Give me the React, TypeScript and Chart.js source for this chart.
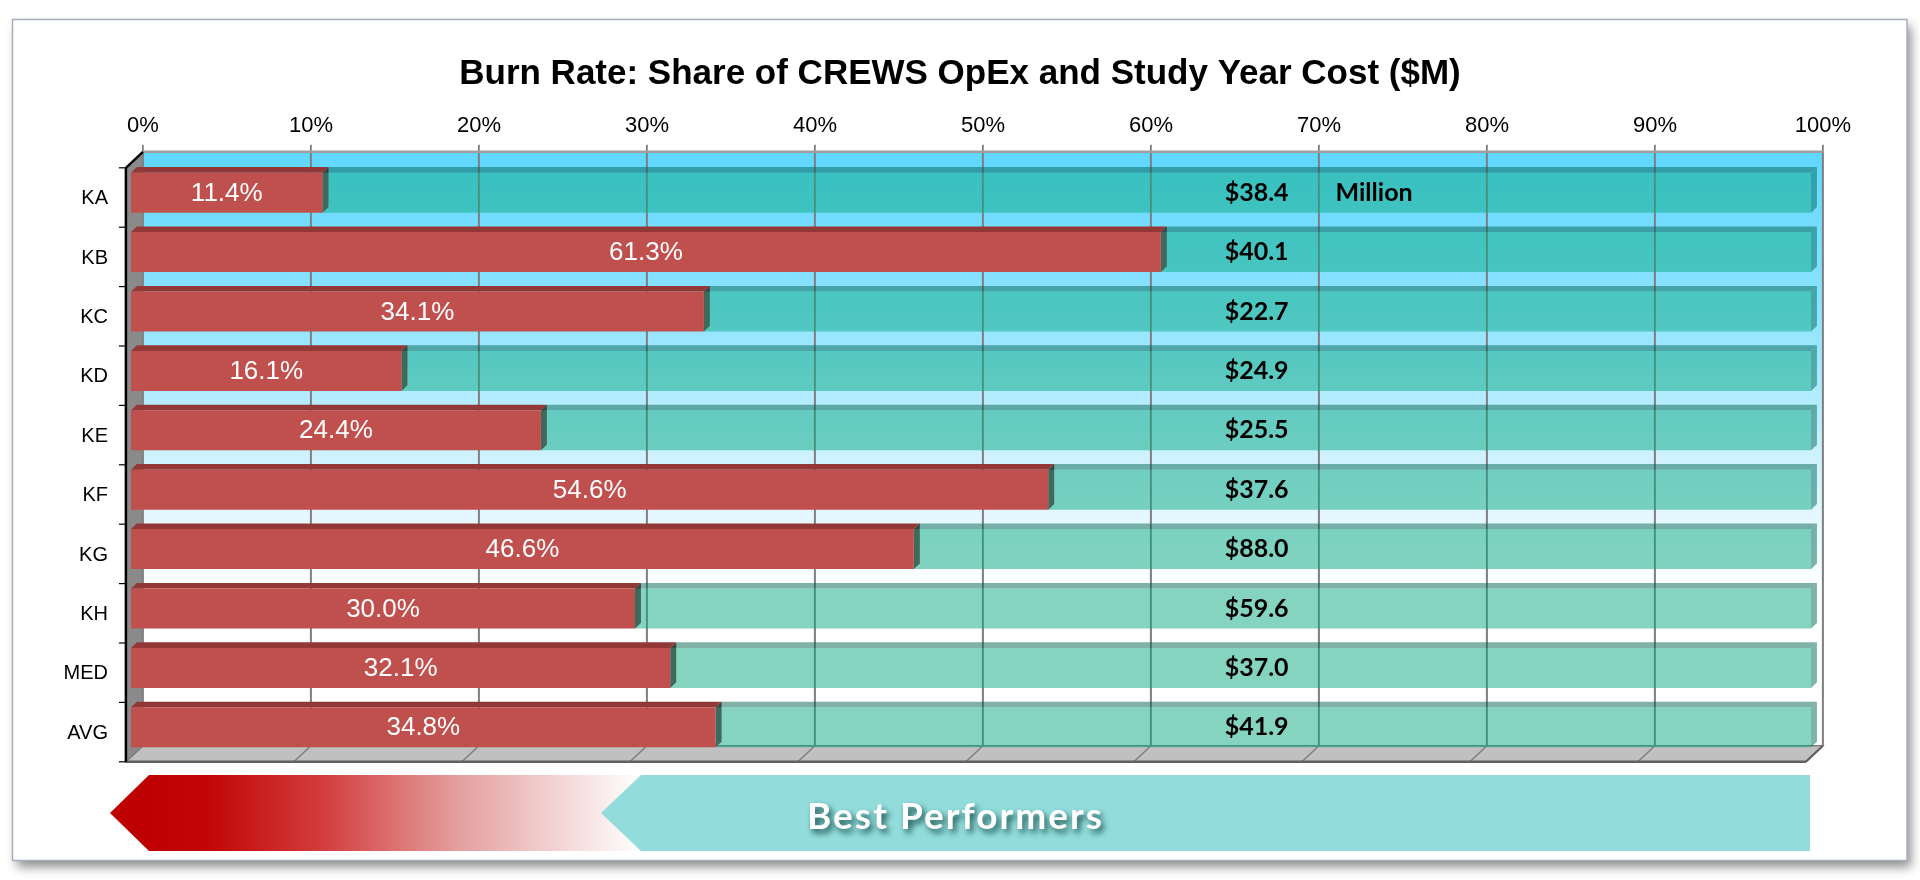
import { useEffect, useRef } from "react";
import { Chart, registerables, Plugin } from "chart.js";

Chart.register(...registerables);

// data
const categories = ["KA", "KB", "KC", "KD", "KE", "KF", "KG", "KH", "MED", "AVG"];
const burnShare = [11.4, 61.3, 34.1, 16.1, 24.4, 54.6, 46.6, 30.0, 32.1, 34.8];
const studyYearCost = [38.4, 40.1, 22.7, 24.9, 25.5, 37.6, 88.0, 59.6, 37.0, 41.9];
const remainder = burnShare.map((v) => +(100 - v).toFixed(1));
const costUnit = "Million";
const titleText = "Burn Rate: Share of CREWS OpEx and Study Year Cost ($M)";
const bannerText = "Best Performers";

const RED = "#C0504D";
const RED_TOP = "#923836";
const RED_SIDE = "#722833";
const TEAL = "rgba(12,170,130,0.5)";
const TEAL_TOP = "rgba(0,100,80,0.5)";
const TEAL_SIDE = "rgba(0,105,85,0.5)";

// 3D depth of the plot box, and where the bars sit inside it
const DEPTH_X = 17;
const DEPTH_Y = -16;
const BAR_FRONT = 0.3;
const BAR_DEPTH = 0.35;

const ARIAL = '"Liberation Sans", Arial, sans-serif';
const CALIBRI = 'Lato, "Open Sans", sans-serif';

const poly = (ctx: CanvasRenderingContext2D, pts: number[][], fill?: any, stroke?: string, lw = 1) => {
  ctx.beginPath();
  pts.forEach(([x, y], i) => (i ? ctx.lineTo(x, y) : ctx.moveTo(x, y)));
  ctx.closePath();
  if (fill) {
    ctx.fillStyle = fill;
    ctx.fill();
  }
  if (stroke) {
    ctx.strokeStyle = stroke;
    ctx.lineWidth = lw;
    ctx.stroke();
  }
};

const line = (ctx: CanvasRenderingContext2D, x1: number, y1: number, x2: number, y2: number, color: string, lw = 1) => {
  ctx.beginPath();
  ctx.moveTo(x1, y1);
  ctx.lineTo(x2, y2);
  ctx.strokeStyle = color;
  ctx.lineWidth = lw;
  ctx.stroke();
};

const box3d: Plugin<"bar"> = {
  id: "box3d",
  beforeDraw(chart) {
    const { ctx, width, height } = chart;
    ctx.save();
    ctx.fillStyle = "#fff";
    ctx.fillRect(0, 0, width, height);
    // framed card with a drop shadow
    ctx.shadowColor = "rgba(0,0,0,0.45)";
    ctx.shadowBlur = 10;
    ctx.shadowOffsetX = 4;
    ctx.shadowOffsetY = 6;
    ctx.fillRect(12.5, 19.5, 1894.5, 841);
    ctx.restore();
    ctx.save();
    ctx.strokeStyle = "#A7AFBE";
    ctx.lineWidth = 1.5;
    ctx.strokeRect(12.5, 19.5, 1894.5, 841);
    // title, centred on the card rather than on the padded layout box
    ctx.font = `bold 35px ${ARIAL}`;
    ctx.fillStyle = "#000";
    ctx.textAlign = "center";
    ctx.textBaseline = "middle";
    ctx.fillText(titleText, width / 2, 74);
    ctx.restore();
  },
  beforeDatasetsDraw(chart) {
    const { ctx, chartArea: a } = chart;
    const xs = chart.scales.x;
    const fx = -BAR_FRONT * DEPTH_X;
    const fy = -BAR_FRONT * DEPTH_Y;
    const bx = (1 - BAR_FRONT) * DEPTH_X;
    const by = (1 - BAR_FRONT) * DEPTH_Y;
    const fl = a.left + fx, fr = a.right + fx, ft = a.top + fy, fb = a.bottom + fy;
    const bl = a.left + bx, br = a.right + bx, bt = a.top + by, bb = a.bottom + by;

    ctx.save();
    // back wall
    const wall = ctx.createLinearGradient(0, bt, 0, bb);
    wall.addColorStop(0, "#60D7FF");
    wall.addColorStop(0.28, "#90E4FF");
    wall.addColorStop(0.52, "#D0F2FF");
    wall.addColorStop(0.74, "#FFFFFF");
    wall.addColorStop(1, "#FFFFFF");
    ctx.fillStyle = wall;
    ctx.fillRect(bl, bt, br - bl, bb - bt);

    // left wall and floor
    poly(ctx, [[fl, ft], [bl, bt], [bl, bb], [fl, fb]], "#8A8A8A");
    poly(ctx, [[fl, fb], [bl, bb], [br, bb], [fr, fb]], "#C0C0C0", "#7F7F7F", 1.5);

    // grid on the back wall and the floor
    xs.ticks.forEach((t) => {
      const px = xs.getPixelForValue(t.value) + bx;
      line(ctx, px, bt, px, bb, "#7F7F7F", 2);
      line(ctx, px, bt - 7, px, bt, "#404040", 1.2);
      line(ctx, px, bb, px - DEPTH_X, bb - DEPTH_Y, "#7F7F7F", 1.5);
    });
    line(ctx, bl, bt, br, bt, "#A0A0A0", 2.5);

    // front edges
    line(ctx, fl, fb, fr, fb, "#606060", 2.5);
    line(ctx, fr, fb, br, bb, "#606060", 2);
    line(ctx, fl, ft, fl, fb, "#000", 2.5);
    line(ctx, fl, ft, bl, bt, "#000", 2.5);
    const n = categories.length;
    for (let i = 0; i <= n; i++) {
      const y = ft + ((fb - ft) * i) / n;
      line(ctx, fl - 7, y, fl, y, "#000", 1.2);
    }

    // top and side faces of the bars
    const dx = BAR_DEPTH * DEPTH_X;
    const dy = BAR_DEPTH * DEPTH_Y;
    const faces = (di: number, top: string, side: string) => {
      chart.getDatasetMeta(di).data.forEach((el) => {
        const { x, y, base, height } = el.getProps(["x", "y", "base", "height"], true) as any;
        const y0 = y - height / 2;
        const y1 = y + height / 2;
        poly(ctx, [[x, y0], [x + dx, y0 + dy], [x + dx, y1 + dy], [x, y1]], side);
        poly(ctx, [[base, y0], [base + dx, y0 + dy], [x + dx, y0 + dy], [x, y0]], top);
      });
    };
    faces(0, RED_TOP, RED_SIDE);
    faces(1, TEAL_TOP, TEAL_SIDE);
    ctx.restore();
  },
  afterDatasetsDraw(chart) {
    const { ctx } = chart;
    const xs = chart.scales.x;
    ctx.save();
    ctx.textBaseline = "middle";
    ctx.textAlign = "center";
    chart.getDatasetMeta(0).data.forEach((el, i) => {
      const { x, y, base } = el.getProps(["x", "y", "base"], true) as any;
      ctx.font = `26px ${ARIAL}`;
      ctx.fillStyle = "#fff";
      ctx.fillText(burnShare[i].toFixed(1) + "%", (x + base) / 2, y + 1);
      ctx.font = `bold 25px ${CALIBRI}`;
      ctx.fillStyle = "#000";
      ctx.fillText("$" + studyYearCost[i].toFixed(1), xs.getPixelForValue(67), y);
      if (i === 0) {
        ctx.textAlign = "left";
        ctx.fillText(costUnit, xs.getPixelForValue(71.7), y);
        ctx.textAlign = "center";
      }
    });
    ctx.restore();
  },
  afterDraw(chart) {
    const { ctx, chartArea: a } = chart;
    const top = 775, bot = 851, mid = (top + bot) / 2;
    const split = 641;
    ctx.save();
    const grad = ctx.createLinearGradient(149, 0, split, 0);
    grad.addColorStop(0, "#BF0000");
    grad.addColorStop(0.12, "#C20606");
    grad.addColorStop(0.35, "#D23C3C");
    grad.addColorStop(0.62, "#E49C9C");
    grad.addColorStop(0.9, "#F8E6E6");
    grad.addColorStop(1, "#FFFFFF");
    poly(ctx, [[a.left - 21, mid], [149, top], [split, top], [split, bot], [149, bot]], grad);
    poly(ctx, [[split - 40, mid], [split, top], [a.right - 1, top], [a.right - 1, bot], [split, bot]], "#92DDDB");

    ctx.font = `bold 37px ${CALIBRI}`;
    (ctx as any).letterSpacing = "2px";
    ctx.textAlign = "left";
    ctx.textBaseline = "alphabetic";
    ctx.shadowColor = "rgba(0,50,50,0.85)";
    ctx.shadowBlur = 6;
    ctx.shadowOffsetX = 3;
    ctx.shadowOffsetY = 4;
    ctx.fillStyle = "#fff";
    ctx.fillText(bannerText, 807, 829);
    ctx.restore();
  },
};

export default function App() {
  const canvasRef = useRef<HTMLCanvasElement>(null);

  useEffect(() => {
    document.body.style.margin = "0";
    if (!canvasRef.current) return;

    const chart = new Chart(canvasRef.current, {
      type: "bar",
      data: {
        labels: categories,
        datasets: [
          { label: "Burn share", data: burnShare, backgroundColor: RED, borderWidth: 0 },
          { label: "Remainder", data: remainder, backgroundColor: TEAL, borderWidth: 0 },
        ],
      },
      options: {
        indexAxis: "y",
        animation: false,
        responsive: true,
        maintainAspectRatio: false,
        events: [],
        layout: { padding: { left: 0, right: 109, top: 0, bottom: 123 } },
        datasets: { bar: { barPercentage: 0.673, categoryPercentage: 1 } },
        scales: {
          x: {
            position: "top",
            stacked: true,
            min: 0,
            max: 100,
            grid: { display: false, drawTicks: false },
            border: { display: false },
            ticks: {
              stepSize: 10,
              padding: 24,
              labelOffset: 12,
              color: "#000",
              font: { family: ARIAL, size: 22 },
              callback: (v) => `${v}%`,
            },
            afterFit: (s) => {
              s.height = 163;
            },
          },
          y: {
            stacked: true,
            grid: { display: false, drawTicks: false },
            border: { display: false },
            ticks: {
              padding: 23,
              labelOffset: 6,
              color: "#000",
              font: { family: ARIAL, size: 20 },
            },
            afterFit: (s) => {
              s.width = 131;
            },
          },
        },
        plugins: {
          legend: { display: false },
          tooltip: { enabled: false },
          title: { display: false },
        },
      },
      plugins: [box3d],
    });

    return () => chart.destroy();
  }, []);

  return (
    <div style={{ position: "absolute", left: 0, top: 0, width: 1920, height: 880 }}>
      <canvas ref={canvasRef} />
    </div>
  );
}
